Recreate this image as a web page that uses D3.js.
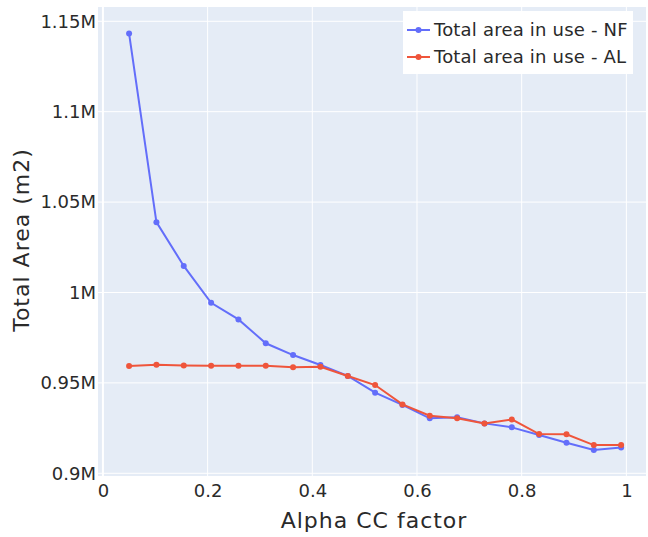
<!DOCTYPE html>
<html>
<head>
<meta charset="utf-8">
<script src="https://cdn.jsdelivr.net/npm/d3@7"></script>
<style>
    body { margin: 0; background: #fff; }
    svg text { font-family: "Century Gothic", "DejaVu Sans", sans-serif; fill: #2a2a2a; }
</style>
</head>
<body>
<div id="chart"></div>
<script>
// alpha CC factor values (x)
const alphaValues = [0.05, 0.1022, 0.1544, 0.2067, 0.2589, 0.3111, 0.3633, 0.4156, 0.4678, 0.52,
    0.5722, 0.6244, 0.6767, 0.7289, 0.7811, 0.8333, 0.8856, 0.9378, 0.99];

// total area in use (m2)
const areaNF = [1143200, 1038900, 1014700, 994300, 985100, 971900, 965400, 959900, 953800, 944600,
    937800, 930400, 931000, 927600, 925400, 921200, 916900, 912900, 914200];
const areaAL = [959300, 960000, 959600, 959500, 959500, 959500, 958600, 958900, 953800, 948800,
    938100, 931800, 930400, 927600, 929800, 921700, 921600, 915600, 915600];

const seriesNames = ["Total area in use - NF", "Total area in use - AL"];
const seriesColors = ["#636efa", "#ef553b"];

const xTicks = [0, 0.2, 0.4, 0.6, 0.8, 1];
const yTicks = [900000, 950000, 1000000, 1050000, 1100000, 1150000];

const width = 648, height = 537;
const plot = {left: 98, right: 646, top: 7, bottom: 476};

const svg = d3.select("#chart").append("svg")
    .attr("width", width)
    .attr("height", height);

const x = d3.scaleLinear()
    .domain([-0.0094, 1.0375])
    .range([plot.left, plot.right]);

const y = d3.scaleLinear()
    .domain([898500, 1157900])
    .range([plot.bottom, plot.top]);

// plot background
svg.append("rect")
    .attr("x", plot.left)
    .attr("y", plot.top)
    .attr("width", plot.right - plot.left)
    .attr("height", plot.bottom - plot.top)
    .attr("fill", "#e5ecf6");

// grid
svg.append("g")
    .selectAll("line")
    .data(xTicks)
    .join("line")
    .attr("x1", d => x(d)).attr("x2", d => x(d))
    .attr("y1", plot.top).attr("y2", plot.bottom)
    .attr("stroke", "#fff")
    .attr("stroke-width", d => d === 0 ? 2 : 1);

svg.append("g")
    .selectAll("line")
    .data(yTicks)
    .join("line")
    .attr("x1", plot.left).attr("x2", plot.right)
    .attr("y1", d => y(d)).attr("y2", d => y(d))
    .attr("stroke", "#fff")
    .attr("stroke-width", 1);

// axes (labels only)
const fmtM = d => `${+(d / 1e6).toFixed(2)}M`;

const yAxis = svg.append("g")
    .attr("transform", `translate(${plot.left},0)`)
    .call(d3.axisLeft(y).tickValues(yTicks).tickFormat(fmtM).tickSize(0).tickPadding(2));
yAxis.select(".domain").remove();
yAxis.selectAll("text").style("font-size", "18px").attr("fill", "#2a2a2a");

const xAxis = svg.append("g")
    .attr("transform", `translate(0,${plot.bottom})`)
    .call(d3.axisBottom(x).tickValues(xTicks).tickFormat(d3.format("~g")).tickSize(0).tickPadding(8));
xAxis.select(".domain").remove();
xAxis.selectAll("text").style("font-size", "18px").attr("fill", "#2a2a2a");

// axis titles
svg.append("text")
    .attr("text-anchor", "middle")
    .attr("x", (plot.left + plot.right) / 2 + 2)
    .attr("y", 528)
    .style("font-size", "22px")
    .style("letter-spacing", "1px")
    .text("Alpha CC factor");

svg.append("text")
    .attr("text-anchor", "middle")
    .attr("transform", "rotate(-90)")
    .attr("x", -240)
    .attr("y", 29)
    .style("font-size", "22px")
    .style("letter-spacing", "1px")
    .text("Total Area (m2)");

// series
const seriesData = [areaNF, areaAL];
const line = d3.line()
    .x((d, i) => x(alphaValues[i]))
    .y(d => y(d));

seriesData.forEach((values, s) => {
    svg.append("path")
        .datum(values)
        .attr("fill", "none")
        .attr("stroke", seriesColors[s])
        .attr("stroke-width", 2)
        .attr("d", line);

    svg.append("g")
        .selectAll("circle")
        .data(values)
        .join("circle")
        .attr("cx", (d, i) => x(alphaValues[i]))
        .attr("cy", d => y(d))
        .attr("r", 3)
        .attr("fill", seriesColors[s]);
});

// legend
const legend = svg.append("g").attr("transform", "translate(403,11)");
legend.append("rect")
    .attr("width", 230)
    .attr("height", 63)
    .attr("fill", "#fff");

seriesNames.forEach((name, i) => {
    const row = legend.append("g").attr("transform", `translate(0,${19 + i * 27})`);
    row.append("line")
        .attr("x1", 4).attr("x2", 27)
        .attr("stroke", seriesColors[i])
        .attr("stroke-width", 2);
    row.append("circle")
        .attr("cx", 15.5)
        .attr("r", 3)
        .attr("fill", seriesColors[i]);
    row.append("text")
        .attr("x", 31)
        .attr("dy", "0.35em")
        .style("font-size", "18px")
        .style("letter-spacing", "0.2px")
        .text(name);
});
</script>
</body>
</html>
